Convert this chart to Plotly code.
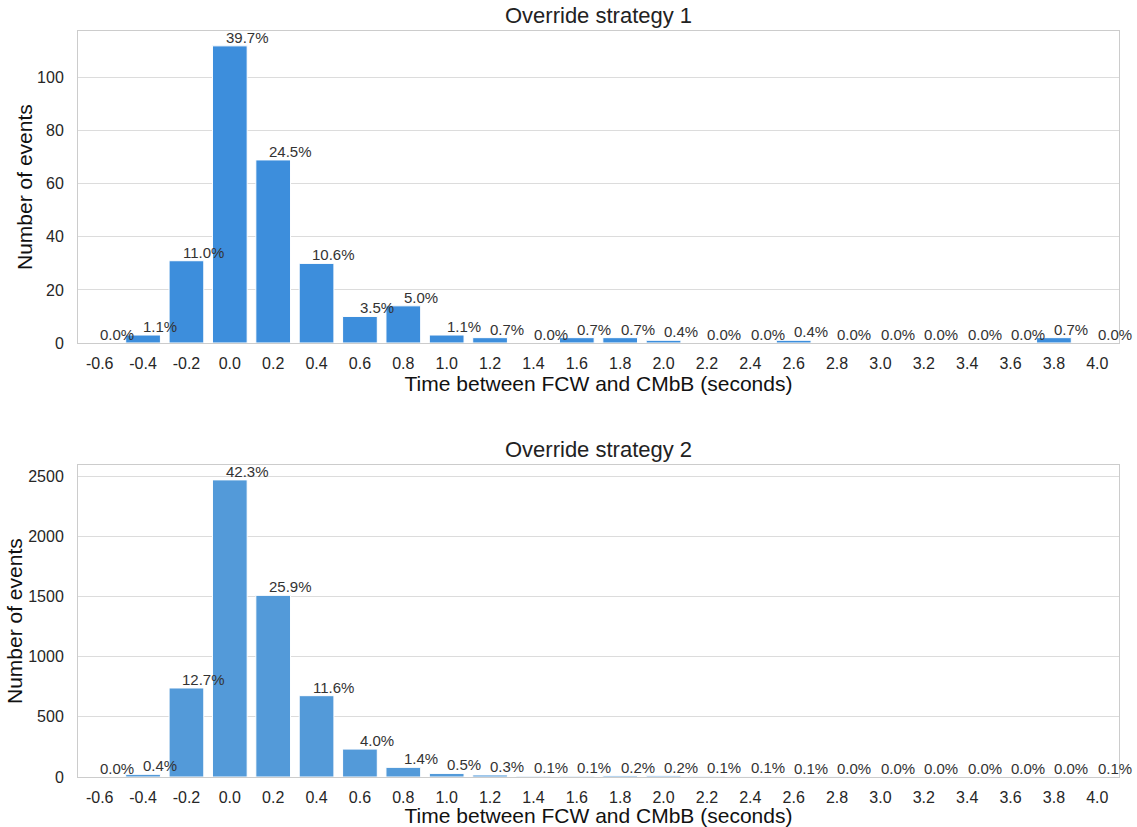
import plotly.graph_objects as go
from plotly.subplots import make_subplots

# Time bins between FCW and CMbB (seconds)
categories = ["-0.6", "-0.4", "-0.2", "0.0", "0.2", "0.4", "0.6", "0.8", "1.0", "1.2",
              "1.4", "1.6", "1.8", "2.0", "2.2", "2.4", "2.6", "2.8", "3.0", "3.2",
              "3.4", "3.6", "3.8", "4.0"]

# Event counts per bin
strategy1_counts = [0, 3, 31, 112, 69, 30, 10, 14, 3, 2,
                    0, 2, 2, 1, 0, 0, 1, 0, 0, 0,
                    0, 0, 2, 0]
strategy2_counts = [0, 22, 740, 2470, 1510, 676, 232, 80, 30, 17,
                    7, 7, 11, 10, 6, 5, 4, 2, 1, 1,
                    1, 1, 2, 4]

titles = ["Override strategy 1", "Override strategy 2"]
bar_colors = ["#3d8edc", "#539ad9"]
y_ticks = [[0, 20, 40, 60, 80, 100], [0, 500, 1000, 1500, 2000, 2500]]
ytitle_offsets = [-53, -64]  # px left of the plot edge for the y-axis title

FONT = "Liberation Sans, Arial, sans-serif"
TEXT = "#262626"
GRID = "#dcdcdc"
SPINE = "#cccccc"

fig = make_subplots(rows=2, cols=1, vertical_spacing=0.1636)
domains = [[0.5818, 1.0], [0.0, 0.4182]]

n = len(categories)
xs = list(range(n))

for row, counts in enumerate([strategy1_counts, strategy2_counts], start=1):
    total = sum(counts)
    suffix = "" if row == 1 else str(row)
    fig.add_trace(
        go.Bar(
            x=xs, y=counts, width=0.8,
            marker=dict(color=bar_colors[row - 1], line=dict(color="white", width=1)),
            showlegend=False, hoverinfo="skip",
        ),
        row=row, col=1,
    )
    # percentage label, centred on the right edge of each bar
    for i, c in enumerate(counts):
        fig.add_annotation(
            x=i + 0.4, y=c, xref=f"x{suffix}", yref=f"y{suffix}",
            text=f"{100 * c / total:.1f}%", showarrow=False,
            xanchor="center", yanchor="bottom", yshift=-2,
            font=dict(family=FONT, size=15, color="#333333"),
        )
    ymax = max(counts) * 1.05
    fig.update_xaxes(
        row=row, col=1, range=[-0.5, n - 0.5], automargin=False,
        tickmode="array", tickvals=xs, ticktext=categories,
        showgrid=False, showline=True, mirror=True, linecolor=SPINE, linewidth=1,
        ticks="", ticklabelstandoff=6,
        tickfont=dict(family=FONT, size=16, color=TEXT),
        title=dict(text="Time between FCW and CMbB (seconds)", standoff=4,
                   font=dict(family=FONT, size=21, color="#111111")),
        zeroline=False,
    )
    fig.update_yaxes(
        row=row, col=1, range=[0, ymax], domain=domains[row - 1], automargin=False,
        tickmode="array", tickvals=y_ticks[row - 1],
        showgrid=True, gridcolor=GRID, gridwidth=1,
        showline=True, mirror=True, linecolor=SPINE, linewidth=1,
        ticks="", ticklabelstandoff=10,
        tickfont=dict(family=FONT, size=16, color=TEXT),
        zeroline=False,
    )
    # y-axis title
    dom = domains[row - 1]
    fig.add_annotation(
        x=0, y=(dom[0] + dom[1]) / 2, xref="paper", yref="paper",
        xanchor="center", yanchor="middle", xshift=ytitle_offsets[row - 1],
        text="Number of events", textangle=-90, showarrow=False,
        font=dict(family=FONT, size=21, color="#111111"),
    )

# subplot titles
for title, dom in zip(titles, domains):
    fig.add_annotation(
        x=0.5, y=dom[1], xref="paper", yref="paper", yanchor="bottom", yshift=1,
        text=title, showarrow=False,
        font=dict(family=FONT, size=22, color="#222222"),
    )

fig.update_layout(
    width=1137, height=827,
    margin=dict(l=78, r=18, t=31, b=50),
    plot_bgcolor="white", paper_bgcolor="white",
    bargap=0.2,
    font=dict(family=FONT, color=TEXT),
)

fig.write_html("out.html")
